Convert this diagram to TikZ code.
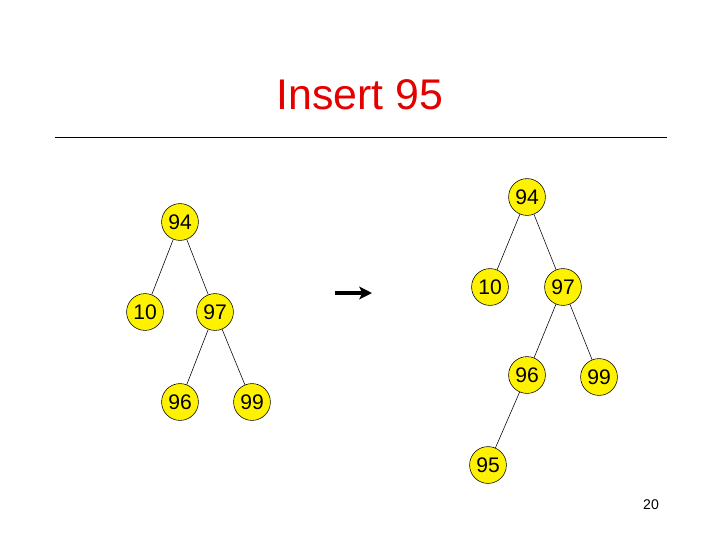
\documentclass[tikz,border=0pt]{standalone}
\usepackage{fontspec}
\setmainfont{Liberation Sans}
\usetikzlibrary{arrows.meta}

\begin{document}
\begin{tikzpicture}[
    x=0.025cm, y=-0.025cm,
    key/.style={draw, circle, fill=yellow, minimum size=0.92cm, inner sep=0pt, font=\fontsize{15}{15}\selectfont},
    edge/.style={thin}
]
\useasboundingbox (0,0) rectangle (720,540);
\node[text=red!90!black, font=\fontsize{30.5}{30.5}\selectfont] (title) at (360,95) {Insert 95};
\coordinate (ruleL) at (55,137);
\coordinate (ruleR) at (667,137);
\draw (ruleL) -- (ruleR);

% before
\node[key] (a94) at (180,222) {94};
\node[key] (a10) at (145,312) {10};
\node[key] (a97) at (215,312) {97};
\node[key] (a96) at (180,402) {96};
\node[key] (a99) at (252,402) {99};
\draw[edge] (a94) -- (a10);
\draw[edge] (a94) -- (a97);
\draw[edge] (a97) -- (a96);
\draw[edge] (a97) -- (a99);

% arrow
\coordinate (arrL) at (335,293);
\coordinate (arrR) at (372,293);
\draw[line width=2.4pt, -{Stealth[length=9pt, width=9pt, inset=2pt]}] (arrL) -- (arrR);

% after
\node[key] (b94) at (527,197) {94};
\node[key] (b10) at (490,287) {10};
\node[key] (b97) at (563,287) {97};
\node[key] (b96) at (527,375) {96};
\node[key] (b99) at (599,377) {99};
\node[key] (b95) at (488,465) {95};
\draw[edge] (b94) -- (b10);
\draw[edge] (b94) -- (b97);
\draw[edge] (b97) -- (b96);
\draw[edge] (b97) -- (b99);
\draw[edge] (b96) -- (b95);

\node[font=\fontsize{10}{10}\selectfont] (page) at (651,505) {20};
\end{tikzpicture}
\end{document}
